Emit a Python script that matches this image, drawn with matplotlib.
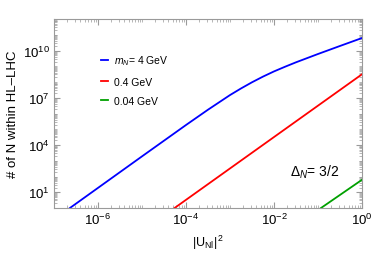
import matplotlib
matplotlib.use("Agg")
import matplotlib.pyplot as plt
from matplotlib.ticker import LogLocator, NullFormatter

plt.rcParams['font.family'] = ['Liberation Sans', 'DejaVu Sans']
plt.rcParams['mathtext.fontset'] = 'custom'
plt.rcParams['mathtext.rm'] = 'Liberation Sans'
plt.rcParams['mathtext.it'] = 'Liberation Sans:italic'

# --- data (|U_Nl|^2 vs number of N) ---
blue_u2 = [2.3e-7, 1e-5, 1e-4, 3.16e-4, 1e-3, 1.78e-3, 3.16e-3, 5.62e-3,
           1e-2, 1.78e-2, 3.16e-2, 1e-1, 3.16e-1, 1.0]
blue_n = [1.0, 1.9e3, 1.86e5, 1.74e6, 1.48e7, 3.9e7, 9.6e7, 2.2e8,
          4.7e8, 9.3e8, 1.78e9, 6.0e9, 1.94e10, 6.2e10]

red_u2 = [5.5e-5, 1e-2, 1.0]
red_n = [1.0, 3.2e4, 3.1e8]

green_u2 = [0.117, 1.0]
green_n = [1.0, 62.0]

labels = ["$m_N$= 4 GeV", "0.4 GeV", "0.04 GeV"]

grey = '#9a9a9a'

fig = plt.figure(figsize=(3.74, 2.55), dpi=100)
ax = fig.add_axes([54 / 374, 1 - 209 / 255, 308 / 374, 189 / 255])

ax.plot(blue_u2, blue_n, color='#0000ff', lw=1.3, label=labels[0])
ax.plot(red_u2, red_n, color='#ff0000', lw=1.3, label=labels[1])
ax.plot(green_u2, green_n, color='#00a000', lw=1.3, label=labels[2])

ax.set_xscale('log')
ax.set_yscale('log')
ax.set_xlim(1e-7, 1)
ax.set_ylim(1, 1e12)

# ticks
ax.set_xticks([1e-6, 1e-4, 1e-2, 1])
ax.set_xticklabels(['$10^{-6}$', '$10^{-4}$', '$10^{-2}$', '$10^{0}$'])
ax.xaxis.set_minor_locator(LogLocator(base=10, subs=[1, 2, 3, 4, 5, 6, 7, 8, 9], numticks=50))
ax.xaxis.set_minor_formatter(NullFormatter())

ax.set_yticks([1e1, 1e4, 1e7, 1e10])
ax.set_yticklabels(['$10^{1}$', '$10^{4}$', '$10^{7}$', '$10^{10}$'])
ax.yaxis.set_minor_locator(LogLocator(base=10, subs=[1, 2, 3, 4, 5, 6, 7, 8, 9], numticks=50))
ax.yaxis.set_minor_formatter(NullFormatter())

ax.tick_params(which='both', direction='in', top=True, right=True, color=grey,
               labelsize=9.5, labelcolor='black')
ax.tick_params(which='major', length=4, width=0.8, pad=3)
ax.tick_params(which='minor', length=2, width=0.5)
for s in ax.spines.values():
    s.set_color(grey)
    s.set_linewidth(0.8)

ax.set_xlabel(r'$|\mathrm{U_{Nl}}|^{\,2}$', fontsize=9, labelpad=4)
ax.set_ylabel('# of N within HL\u2013LHC', fontsize=9.5, labelpad=3)

ax.legend(loc='upper left', bbox_to_anchor=(0.14, 0.84), frameon=False, fontsize=7.5,
          handlelength=0.6, handletextpad=0.6, labelspacing=0.9, borderaxespad=0)

ax.text(0.765, 0.17, r'$\Delta_N$= 3/2', transform=ax.transAxes, fontsize=10)

fig.savefig('out.png', dpi=100)
